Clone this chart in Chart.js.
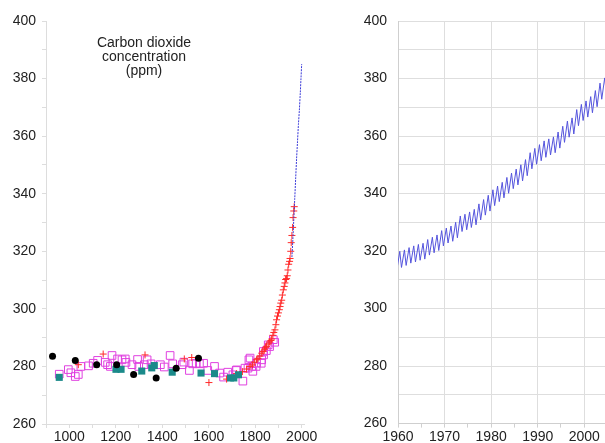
<!DOCTYPE html>
<html>
<head>
<meta charset="utf-8">
<script src="https://cdn.jsdelivr.net/npm/chart.js@4.4.1/dist/chart.umd.min.js"></script>
<style>
  html, body { margin: 0; padding: 0; background: #fff; }
  #page { position: relative; width: 605px; height: 443px; overflow: hidden; }
  .panel { position: absolute; top: 0; height: 443px; }
  #leftBox { left: 0; width: 320px; }
  #rightBox { left: 350px; width: 255px; }
</style>
</head>
<body>
<div id="page">
  <div class="panel" id="leftBox"><canvas id="leftChart"></canvas></div>
  <div class="panel" id="rightBox"><canvas id="rightChart"></canvas></div>
</div>
<script>
// ice core samples, black circles
const circleYears = [928, 1026, 1118, 1204, 1277, 1374, 1460, 1556];
const circlePpm = [283.5, 282.1, 280.6, 280.6, 277.2, 276.0, 279.4, 282.8];

// teal filled squares
const tealYears = [957, 1201, 1223, 1312, 1355, 1366, 1443, 1567, 1625, 1694, 1708, 1728];
const tealPpm = [276.2, 279.0, 279.0, 278.4, 279.5, 280.3, 278.0, 277.7, 277.5, 276.0, 276.0, 277.1];

// magenta open squares
const magentaYears = [957, 996, 1007, 1026, 1039, 1050, 1083, 1103, 1122, 1155, 1165, 1177, 1184,
  1208, 1227, 1241, 1244, 1270, 1294, 1299, 1323, 1335, 1352, 1392, 1409, 1434, 1445, 1486, 1493,
  1517, 1531, 1546, 1560, 1578, 1596, 1625, 1647, 1664, 1682, 1704, 1718, 1720, 1747, 1756, 1769,
  1773, 1778, 1785, 1790, 1804, 1806, 1826, 1828, 1835, 1836, 1848, 1856, 1862, 1878, 1884];
const magentaPpm = [277.3, 278.9, 277.8, 276.5, 277.2, 280.0, 280.2, 281.1, 282.1, 281.4, 280.6, 280.0, 283.8,
  282.6, 282.3, 282.6, 281.4, 280.6, 282.4, 280.0, 280.6, 282.3, 280.9, 280.6, 279.8, 283.8, 280.9, 280.6, 281.5,
  278.6, 280.9, 281.1, 280.9, 281.1, 278.6, 280.0, 277.7, 276.3, 278.0, 277.1, 278.6, 278.8, 274.9, 279.4, 279.4,
  282.3, 282.9, 280.0, 278.3, 280.0, 281.2, 281.1, 282.3, 285.2, 284.0, 285.5, 287.5, 286.9, 289.3, 288.4];

// red plus markers
const redYears = [1039, 1146, 1326, 1495, 1527, 1601, 1677, 1720, 1745, 1763,
  1778, 1788, 1796, 1806, 1812, 1820, 1828, 1834, 1840, 1845, 1849, 1856, 1862, 1868, 1871,
  1876, 1880, 1885, 1889, 1892, 1896, 1900, 1904, 1907, 1910, 1914, 1917, 1921, 1925, 1928,
  1931, 1935, 1938, 1941, 1944, 1948, 1950, 1953, 1955, 1958, 1961, 1963, 1966, 1968];
const redPpm = [280.6, 284.3, 284.0, 282.6, 283.1, 274.4, 275.6, 277.5, 278.2, 279.1,
  280.0, 280.5, 281.5, 282.3, 282.8, 283.6, 284.6, 285.2, 286.0, 286.5, 287.0, 287.8, 288.5, 289.0, 289.5,
  290.8, 291.8, 292.7, 294.5, 296.2, 297.5, 298.6, 299.7, 300.8, 302.0, 303.0, 304.8, 306.6, 307.8, 309.0,
  310.2, 310.5, 311.5, 313.5, 315.5, 316.5, 317.5, 320.0, 323.0, 325.5, 328.3, 331.7, 334.0, 335.5];

// direct measurements drawn on the long record
const blueYears = [1958, 1962, 1966, 1970, 1974, 1978, 1982, 1986, 1990, 1994, 1997, 2000];
const bluePpm = [318, 324, 331, 338, 345, 352, 358, 364, 369, 375, 380, 385];

// monthly record, yearly spring peak and autumn low
const mloYears = [1958, 1959, 1960, 1961, 1962, 1963, 1964, 1965, 1966, 1967, 1968, 1969, 1970,
  1971, 1972, 1973, 1974, 1975, 1976, 1977, 1978, 1979, 1980, 1981, 1982, 1983, 1984, 1985, 1986,
  1987, 1988, 1989, 1990, 1991, 1992, 1993, 1994, 1995, 1996, 1997, 1998, 1999, 2000, 2001, 2002,
  2003, 2004];
const mloPeak = [317.6, 318.6, 319.9, 320.4, 321.2, 321.8, 322.3, 322.7, 324.0, 324.8, 325.6, 327.1, 328.0,
  328.7, 330.0, 332.2, 332.8, 333.6, 334.5, 336.4, 337.9, 339.4, 341.3, 342.6, 343.9, 345.6, 347.1, 348.5, 350.0,
  351.8, 354.2, 355.7, 357.0, 358.3, 359.0, 359.7, 361.4, 363.4, 365.2, 366.3, 369.2, 371.0, 372.2, 373.7, 375.8,
  378.4, 380.2];
const mloTrough = [312.8, 313.4, 314.3, 315.0, 315.8, 316.2, 316.8, 317.2, 318.6, 319.4, 320.2, 321.8, 322.8,
  323.4, 324.6, 326.8, 327.4, 328.2, 329.1, 330.8, 332.5, 333.9, 335.8, 337.2, 338.5, 340.1, 341.7, 343.0, 344.4,
  346.2, 348.6, 350.2, 351.4, 352.6, 353.4, 354.2, 355.8, 357.8, 359.6, 360.7, 363.6, 365.4, 366.6, 368.1, 370.2,
  372.8, 374.6];
const peakOffset = 0.38;   // May
const troughOffset = 0.75; // late September

// tick values
const leftXTicks = [900, 1000, 1100, 1200, 1300, 1400, 1500, 1600, 1700, 1800, 1900, 2000];
const rightXTicks = [1960, 1965, 1970, 1975, 1980, 1985, 1990, 1995, 2000];
const ppmTicks = [260, 270, 280, 290, 300, 310, 320, 330, 340, 350, 360, 370, 380, 390, 400];
const titleLines = ['Carbon dioxide', 'concentration', '(ppm)'];

const pts = (xs, ys) => xs.map((x, i) => ({ x: x, y: ys[i] }));

let mloPoints = [];
mloYears.forEach((yr, i) => {
    mloPoints.push({ x: yr + peakOffset, y: mloPeak[i] });
    mloPoints.push({ x: yr + troughOffset, y: mloTrough[i] });
});

Chart.defaults.font.family = '"Liberation Sans", Arial, Helvetica, sans-serif';
Chart.defaults.font.size = 14;
Chart.defaults.color = '#222';

const setTicks = (list) => (scale) => { scale.ticks = list.map(v => ({ value: v })); };

// label inside the left plot
const titlePlugin = {
    id: 'innerTitle',
    afterDraw(chart) {
        const ctx = chart.ctx;
        ctx.save();
        ctx.font = '14px "Liberation Sans", Arial, sans-serif';
        ctx.fillStyle = '#222';
        ctx.textAlign = 'center';
        ctx.textBaseline = 'alphabetic';
        titleLines.forEach((t, i) => ctx.fillText(t, 144, 47 + i * 14));
        ctx.restore();
    }
};

const common = {
    responsive: true,
    maintainAspectRatio: false,
    animation: false,
    events: [],
    plugins: { legend: { display: false }, tooltip: { enabled: false } }
};

new Chart(document.getElementById('leftChart'), {
    type: 'scatter',
    data: {
        datasets: [
            { data: pts(blueYears, bluePpm), showLine: true, borderColor: '#3a3ad8', borderWidth: 1,
              borderDash: [2, 1], pointRadius: 0, tension: 0.3 },
            { data: pts(circleYears, circlePpm), pointStyle: 'circle', pointRadius: 3.5,
              backgroundColor: '#000', borderColor: '#000', borderWidth: 0 },
            { data: pts(tealYears, tealPpm), pointStyle: 'rect', pointRadius: 5,
              backgroundColor: '#1b8a8a', borderColor: '#1b8a8a', borderWidth: 0 },
            { data: pts(redYears, redPpm), pointStyle: 'cross', pointRadius: 3.5,
              borderColor: '#ff2a2a', borderWidth: 1 },
            { data: pts(magentaYears, magentaPpm), pointStyle: 'rect', pointRadius: 5.4,
              backgroundColor: 'rgba(0,0,0,0)', borderColor: '#e040e0', borderWidth: 1 }
        ]
    },
    options: Object.assign({}, common, {
        layout: { autoPadding: false, padding: { top: 21, right: 16, left: 0, bottom: 0 } },
        scales: {
            x: {
                type: 'linear', min: 900, max: 2010,
                afterBuildTicks: setTicks(leftXTicks),
                afterFit: (s) => { s.height = 19; },
                grid: { drawOnChartArea: false, tickLength: 4, tickColor: '#ddd' },
                border: { color: '#ddd' },
                ticks: { padding: 1, maxRotation: 0, autoSkip: false,
                         callback: (v) => (v >= 1000 && v % 200 === 0) ? String(v) : '' }
            },
            y: {
                type: 'linear', min: 260, max: 400,
                afterBuildTicks: setTicks(ppmTicks),
                afterFit: (s) => { s.width = 46; },
                grid: { drawOnChartArea: false, tickLength: 4, tickColor: '#ddd' },
                border: { color: '#ddd' },
                ticks: { padding: 6, callback: (v) => v % 20 === 0 ? String(v) : '' }
            }
        }
    }),
    plugins: [titlePlugin]
});

new Chart(document.getElementById('rightChart'), {
    type: 'scatter',
    data: {
        datasets: [
            { data: mloPoints, showLine: true, borderColor: '#5555dd', borderWidth: 1,
              pointRadius: 0, tension: 0 }
        ]
    },
    options: Object.assign({}, common, {
        layout: { autoPadding: false, padding: { top: 21, right: 0, left: 0, bottom: 0 } },
        scales: {
            x: {
                type: 'linear', min: 1960, max: 2004.45,
                afterBuildTicks: setTicks(rightXTicks),
                afterFit: (s) => { s.height = 19; },
                grid: {
                    tickLength: 4,
                    color: (c) => (c.tick && c.tick.value % 10 === 0) ? '#dedede' : 'rgba(0,0,0,0)',
                    tickColor: '#d0d0d0'
                },
                border: { color: '#cfcfcf' },
                ticks: { padding: 1, maxRotation: 0, autoSkip: false,
                         callback: (v) => v % 10 === 0 ? String(v) : '' }
            },
            y: {
                type: 'linear', min: 260, max: 400,
                afterBuildTicks: setTicks(ppmTicks),
                afterFit: (s) => { s.width = 48; },
                grid: { drawTicks: false, color: '#dedede' },
                border: { color: '#cfcfcf' },
                ticks: { padding: 11, callback: (v) => v % 20 === 0 ? String(v) : '' }
            }
        }
    })
});
</script>
</body>
</html>
